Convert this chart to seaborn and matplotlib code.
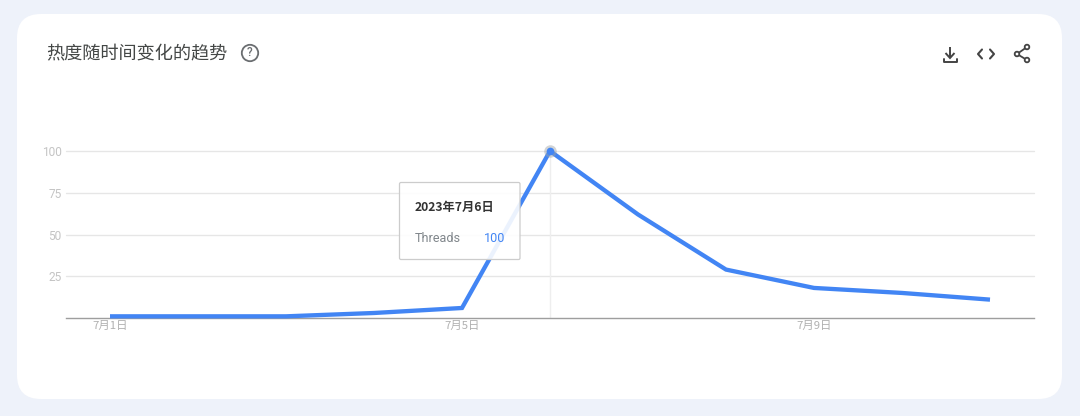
import numpy as np
import pandas as pd
import seaborn as sns
import matplotlib.pyplot as plt
from matplotlib.patches import FancyBboxPatch, Circle, Polygon

days = [1, 2, 3, 4, 5, 6, 7, 8, 9, 10, 11]
threads = [1, 1, 1, 3, 6, 100, 62, 29, 18, 15, 11]
y_ticks = [25, 50, 75, 100]
x_ticks = [1, 5, 9]
x_tick_labels = ['7月1日', '7月5日', '7月9日']
title = '热度随时间变化的趋势'
tip_date = '2023年7月6日'
tip_series = 'Threads'
tip_value = '100'
peak_day = 6
peak_value = 100

W, H = 1080, 416
BLUE = '#4285f4'

sns.set_theme(style='white')
plt.rcParams['font.family'] = ['Noto Sans CJK SC', 'DejaVu Sans']

fig = plt.figure(figsize=(W / 100, H / 100), dpi=100, facecolor='#eef2fa')

# overlay in pixel coords for the card, title and icons
bg = fig.add_axes([0, 0, 1, 1], zorder=0)
bg.set_xlim(0, W)
bg.set_ylim(H, 0)
bg.axis('off')
bg.add_patch(FancyBboxPatch((17 + 24, 14 + 24), 1045 - 48, 385 - 48,
                            boxstyle='round,pad=24,rounding_size=24',
                            fc='white', ec='none'))
bg.text(46, 54, title, fontsize=13.1, color='#444746', va='center', ha='left')

# main chart
df = pd.DataFrame({'day': days, 'value': threads})
ax = fig.add_axes([66 / W, (H - 318) / H, (1034 - 66) / W, 167 / H], zorder=1)
ax.patch.set_alpha(0)
ax.set_xlim(0.5, 11.5)
ax.set_ylim(0, 100)
for v in y_ticks:
    ax.axhline(v, color='#e6e6e6', lw=1, zorder=1, clip_on=False)
ax.axvline(peak_day, color='#eeeeee', lw=1, zorder=1)
sns.lineplot(data=df, x='day', y='value', color=BLUE, lw=3.1, ax=ax, zorder=3,
             clip_on=False, solid_joinstyle='miter', solid_capstyle='butt')
ax.plot([peak_day], [peak_value], 'o', ms=9, color='#9aa0a6', alpha=0.45,
        mec='none', clip_on=False, zorder=3)
ax.plot([peak_day], [peak_value], 'o', ms=5.5, color=BLUE, mec='none',
        clip_on=False, zorder=4)

ax.set_xlabel('')
ax.set_ylabel('')
ax.set_xticks(x_ticks, x_tick_labels)
ax.set_yticks(y_ticks)
ax.tick_params(axis='x', length=0, labelsize=8.2, labelcolor='#b0b0b0', pad=2)
ax.tick_params(axis='y', length=0, labelsize=8.6, labelcolor='#c4c4c4', pad=3)
for lab in ax.get_yticklabels():
    lab.set_family('Roboto')
sns.despine(ax=ax, left=True, top=True, right=True)
ax.spines['bottom'].set_color('#9e9e9e')
ax.spines['bottom'].set_linewidth(1)

# tooltip + icons go on top
fg = fig.add_axes([0, 0, 1, 1], zorder=2)
fg.set_xlim(0, W)
fg.set_ylim(H, 0)
fg.axis('off')
fg.add_patch(FancyBboxPatch((399.5, 182.5), 120.5, 77,
                            boxstyle='round,pad=0,rounding_size=1.5',
                            fc=(1, 1, 1, 0.9), ec='#cccccc', lw=0.9))
fg.text(414.5, 207, tip_date, fontsize=8.8, color='#333333', weight='bold', va='center')
fg.text(414.5, 238, tip_series, fontsize=9.1, color='#80868b', va='center', family='Roboto')
fg.text(505, 238, tip_value, fontsize=9.1, color=BLUE, va='center', ha='right', family='Roboto')

# help icon
GREY = '#6b6e71'
DARK = '#444444'
fg.add_patch(Circle((250, 53), 8.2, fc='none', ec=GREY, lw=1.3))
fg.text(250, 53, '?', fontsize=8.5, color=GREY, ha='center', va='center',
        family='Roboto', weight='medium')

# download icon
fg.plot([950, 950], [47, 57], color=DARK, lw=1.4, solid_capstyle='butt')
fg.add_patch(Polygon([[945.5, 53], [950, 58], [954.5, 53]], closed=False, fc='none', ec=DARK, lw=1.4))
fg.plot([943.5, 943.5, 956.5, 956.5], [58.5, 61.5, 61.5, 58.5], color=DARK, lw=1.4)

# embed icon
fg.plot([982, 978, 982], [49.5, 54, 58.5], color=DARK, lw=1.5)
fg.plot([990, 994, 990], [49.5, 54, 58.5], color=DARK, lw=1.5)

# share icon
fg.plot([1027, 1017, 1027], [47, 54, 60], color=DARK, lw=1.3)
for cx, cy in [(1027, 47), (1017, 54), (1027, 60)]:
    fg.add_patch(Circle((cx, cy), 2.3, fc='white', ec=DARK, lw=1.3, zorder=3))

fig.savefig('out.png', dpi=100, facecolor=fig.get_facecolor())
